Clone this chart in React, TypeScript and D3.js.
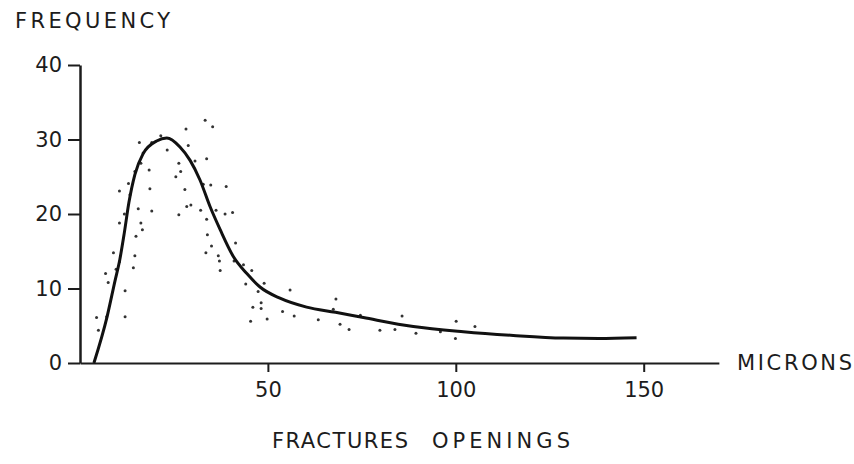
import React, { useEffect, useRef } from 'react';
import * as d3 from 'd3';

// fitted curve (microns, frequency)
const curveX = [3.7, 7.2, 9.3, 10.6, 11.8, 13.0, 14.6, 16.8, 20.4, 23.1, 26.6, 29.3, 31.9, 34.6, 37.3, 40.8, 44.4, 47.9, 53.2, 60.3, 68, 75.4, 88.7, 102, 115.3, 128.6, 138, 148.1];
const curveY = [0, 6.2, 11.0, 13.9, 17.5, 21.5, 25.3, 28.1, 29.8, 30.2, 29.0, 27.2, 24.6, 21.0, 17.9, 14.3, 12.0, 10.2, 8.7, 7.5, 6.8, 6.1, 4.9, 4.2, 3.7, 3.35, 3.3, 3.4];

// measured points
const dotX = [15.8, 19.1, 16.8, 16.2, 18.4, 14.6, 12.9, 10.5, 18.6, 13.3, 15.5, 19.1, 11.8, 10.5, 16.2, 16.6, 14.9, 21.5, 8.9, 14.6, 10.5, 14.2, 9.6, 6.8, 7.5, 12.0, 4.4, 7.1, 12.0, 4.9,
  33.3, 35.3, 28.2, 28.8, 23.2, 30.6, 33.7, 26.3, 26.8, 25.5, 32.8, 34.8, 38.9, 27.9, 28.4, 29.5, 32.1, 36.2, 38.6, 40.6, 26.3, 33.7, 33.9, 41.4, 35.0, 33.5, 36.8, 37.1, 43.5, 37.3,
  41.0, 45.7, 44.1, 49.0, 47.4, 55.9, 48.2, 48.2, 46.0, 53.9, 57.0, 49.8, 45.4, 63.4, 67.4, 68.1, 69.2, 71.6, 74.6, 79.8, 83.8, 85.7, 89.4, 95.9, 100.1, 99.9, 105.1];
const dotY = [29.6, 29.6, 28.2, 26.8, 25.9, 25.7, 24.1, 23.1, 23.4, 22.6, 20.7, 20.4, 20.0, 18.8, 18.8, 17.9, 17.0, 30.5, 14.8, 14.4, 13.6, 12.8, 12.6, 12.0, 10.8, 9.7, 6.1, 6.2, 6.2, 4.4,
  32.6, 31.7, 31.4, 29.2, 28.6, 27.1, 27.4, 26.8, 25.7, 25.0, 24.0, 23.9, 23.7, 23.3, 21.0, 21.2, 20.5, 20.5, 20.0, 20.2, 19.9, 19.3, 17.2, 16.1, 15.7, 14.8, 14.4, 13.7, 13.2, 12.4,
  13.7, 12.4, 10.6, 10.7, 9.6, 9.8, 8.1, 7.3, 7.5, 6.9, 6.3, 5.9, 5.6, 5.8, 7.2, 8.6, 5.2, 4.5, 6.4, 4.4, 4.5, 6.3, 4.0, 4.2, 5.6, 3.3, 4.9];

const xTicks = [50, 100, 150];
const yTicks = [0, 10, 20, 30, 40];

const width = 854;
const height = 464;
const font = '"DejaVu Sans", sans-serif';
const ink = '#1c1c1c';

export default function App() {
  const svgRef = useRef<SVGSVGElement>(null);

  useEffect(() => {
    const svg = d3.select(svgRef.current);
    svg.selectAll('*').remove();

    const x = d3.scaleLinear().domain([0, 170]).range([80, 80 + 170 * 3.758]);
    const y = d3.scaleLinear().domain([0, 40]).range([363, 65]);

    // axes
    const yAxis = svg.append('g')
      .attr('transform', `translate(${x(0)},0)`)
      .call(d3.axisLeft(y).tickValues(yTicks).tickSize(12).tickSizeOuter(0).tickPadding(6));
    yAxis.select('.domain').attr('stroke', ink).attr('stroke-width', 2.5);
    yAxis.selectAll('.tick line').attr('stroke', ink).attr('stroke-width', 2);
    yAxis.selectAll('.tick text')
      .attr('font-family', font).attr('font-size', 21).attr('fill', ink);

    const xAxis = svg.append('g')
      .attr('transform', `translate(0,${y(0)})`)
      .call(d3.axisBottom(x).tickValues(xTicks).tickSize(9).tickSizeOuter(0).tickPadding(10));
    xAxis.select('.domain').attr('stroke', ink).attr('stroke-width', 2);
    xAxis.selectAll('.tick line').attr('stroke', ink).attr('stroke-width', 2);
    xAxis.selectAll('.tick text')
      .attr('font-family', font).attr('font-size', 21).attr('fill', ink);

    // dots
    svg.append('g')
      .selectAll('circle')
      .data(dotX.map((d, i) => [d, dotY[i]]))
      .join('circle')
      .attr('cx', d => x(d[0]))
      .attr('cy', d => y(d[1]))
      .attr('r', 1.5)
      .attr('fill', '#333');

    // fitted curve
    const line = d3.line<number>()
      .x(d => x(d))
      .y((_, i) => y(curveY[i]))
      .curve(d3.curveMonotoneX);

    svg.append('path')
      .datum(curveX)
      .attr('d', line)
      .attr('fill', 'none')
      .attr('stroke', '#111')
      .attr('stroke-width', 3)
      .attr('stroke-linejoin', 'round');

    // labels
    const label = (txt: string, tx: number, ty: number, len: number) =>
      svg.append('text')
        .attr('x', tx).attr('y', ty)
        .attr('font-family', font).attr('font-size', 21).attr('fill', ink)
        .attr('textLength', len).attr('lengthAdjust', 'spacing')
        .text(txt);

    label('FREQUENCY', 15, 28, 155);
    label('MICRONS', 737, 370, 115);
    label('FRACTURES', 272, 448, 136);
    label('OPENINGS', 432, 448, 138);
  }, []);

  return (
    <svg
      ref={svgRef}
      width={width}
      height={height}
      style={{ position: 'absolute', left: 0, top: 0, background: 'white' }}
    />
  );
}
